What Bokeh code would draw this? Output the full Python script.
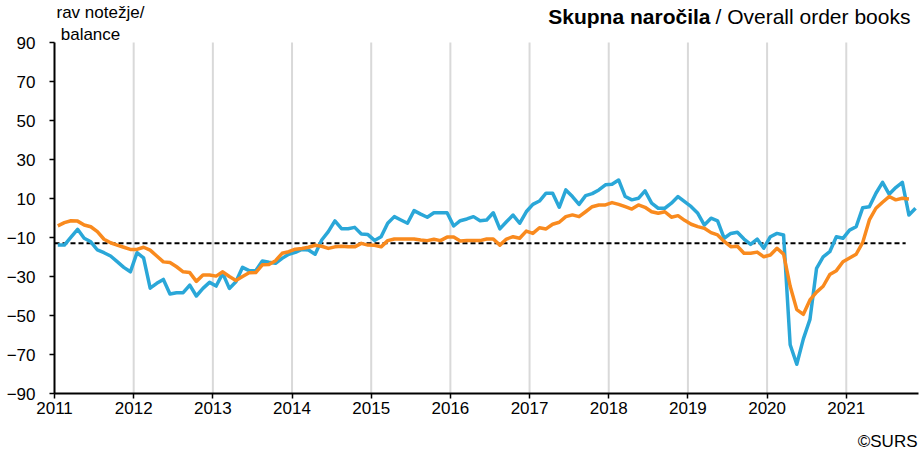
import numpy as np
from bokeh.plotting import figure
from bokeh.models import FixedTicker, Label, Title
from bokeh.embed import file_html
from bokeh.resources import INLINE

# ---- data (monthly, Jan 2011 - Nov 2021) ----
years = list(range(2011, 2022))
year_labels = [str(y) for y in years]

balance = [
    -13.9, -13.9, -9.8, -5.8, -10.4, -12.2, -16.4, -17.8, -19.5, -22.4, -25.3, -27.6,
    -17.8, -20.5, -36.0, -33.5, -31.5, -39.0, -38.3, -38.3, -34.4, -40.0, -36.1, -33.0,
    -34.9, -28.4, -36.1, -32.7, -25.3, -27.0, -27.0, -22.0, -22.7, -23.2, -20.7, -18.6,
    -17.6, -16.1, -16.4, -18.6, -11.3, -7.0, -1.5, -5.5, -5.5, -4.8, -8.2, -8.5,
    -11.5, -9.6, -2.7, 0.7, -1.0, -2.7, 3.8, 2.0, 0.4, 2.7, 2.7, 2.7,
    -4.1, -1.4, -0.5, 0.7, -1.4, -1.0, 2.7, -5.6, -1.9, 1.5, -2.7, 3.2,
    7.0, 8.7, 12.7, 12.7, 5.5, 14.4, 11.0, 7.0, 11.5, 12.5, 14.4, 17.0,
    17.3, 19.5, 11.0, 9.3, 10.1, 13.9, 7.6, 5.0, 5.0, 7.6, 11.0, 8.4,
    5.8, 2.4, -3.6, -0.1, -1.5, -10.4, -7.9, -7.3, -10.8, -13.5, -10.8, -15.5,
    -9.6, -7.9, -8.7, -65.0, -75.0, -62.0, -52.0, -25.8, -19.9, -17.3, -9.6, -10.4,
    -6.2, -4.5, 5.3, 5.8, 12.7, 18.3, 12.2, 15.6, 18.3, 1.5, 5.0,
]

trend = [
    -4.0, -2.4, -1.4, -1.6, -3.6, -4.5, -7.0, -10.9, -12.7, -13.9, -15.0, -16.1,
    -16.1, -15.0, -16.5, -19.5, -22.5, -22.8, -25.0, -27.6, -28.0, -32.5, -29.2, -29.2,
    -29.8, -27.6, -30.0, -32.0, -30.0, -28.1, -28.0, -24.0, -23.8, -21.9, -18.1, -17.3,
    -16.0, -15.6, -15.0, -14.0, -14.5, -15.6, -14.8, -14.5, -14.8, -14.8, -13.0, -13.9,
    -14.0, -14.8, -11.6, -10.8, -10.8, -10.8, -10.8, -11.3, -11.6, -10.9, -11.6, -9.8,
    -9.8, -11.8, -11.6, -11.6, -11.6, -10.8, -10.8, -13.9, -10.8, -9.6, -10.4, -6.7,
    -7.9, -5.0, -5.6, -3.2, -2.2, 0.7, 1.6, 0.7, 3.2, 5.8, 6.7, 6.7,
    7.9, 7.0, 5.8, 4.6, 6.7, 5.5, 3.2, 2.4, 3.2, 0.4, 1.2, -1.2,
    -3.2, -4.4, -5.3, -7.5, -8.7, -12.0, -14.7, -14.5, -18.1, -18.1, -17.5, -19.9,
    -19.0, -15.5, -18.5, -35.0, -47.0, -49.4, -42.0, -38.0, -35.0, -29.0, -27.0, -22.4,
    -20.5, -18.6, -12.5, -1.0, 5.0, 8.1, 11.0, 9.3, 10.1, 9.8,
]

long_term_avg = -13.0
avg_months = 129          # months covered by the average line
y_min, y_max = -90, 90
y_ticks = list(range(y_min, y_max + 1, 20))

# category positions: month i is centred in its slot
x_bal = np.arange(len(balance)) + 0.5
x_tr = np.arange(len(trend)) + 0.5
year_pos = [12 * k for k in range(len(years))]

BLUE = "#2AA7D8"
ORANGE = "#F98A1E"
FONT = "Liberation Sans"

# geometry: frame reaches the top of the canvas so the heading texts sit inside it
FRAME_W, FRAME_H = 864, 393
PX_PER_UNIT = 1.95
PX_PER_MONTH = 6.598
y_top = y_min + FRAME_H / PX_PER_UNIT
x_end = FRAME_W / PX_PER_MONTH

p = figure(
    frame_width=FRAME_W, frame_height=FRAME_H,
    min_border_left=54, min_border_right=3, min_border_top=0, min_border_bottom=61,
    x_range=(0, x_end), y_range=(y_min, y_top),
    output_backend="svg", toolbar_location=None,
    background_fill_color="white", border_fill_color="white",
)
p.outline_line_color = None
p.xgrid.visible = False
p.ygrid.visible = False

# axes
for ax in (p.xaxis[0], p.yaxis[0]):
    ax.axis_line_color = "black"
    ax.axis_line_width = 2
    ax.major_tick_line_color = "black"
    ax.major_tick_line_width = 1.5
    ax.major_tick_in = 0
    ax.major_tick_out = 5
    ax.minor_tick_line_color = None
    ax.major_label_text_font = FONT
    ax.major_label_text_font_size = "17px"
    ax.major_label_text_color = "black"

p.yaxis[0].ticker = FixedTicker(ticks=y_ticks)
p.yaxis[0].bounds = (y_min, y_max)
p.yaxis[0].major_label_standoff = 14
p.xaxis[0].ticker = FixedTicker(ticks=year_pos)
p.xaxis[0].major_label_overrides = {pos: lab for pos, lab in zip(year_pos, year_labels)}
p.xaxis[0].major_label_standoff = 3
# a blank, small axis label just adds room between the year labels and the credit line
p.xaxis[0].axis_label = " "
p.xaxis[0].axis_label_text_font_size = "7px"
p.xaxis[0].axis_label_standoff = 0

# vertical year separators (only over the value range)
p.segment(x0=year_pos[1:], y0=y_min, x1=year_pos[1:], y1=y_max,
          line_color="#D9D9D9", line_width=2)

# long-term average
p.line([0, avg_months], [long_term_avg, long_term_avg], line_color="black",
       line_width=2, line_dash="5 3")

p.line(x_bal, balance, line_color=BLUE, line_width=3.5, line_join="round")
p.line(x_tr, trend, line_color=ORANGE, line_width=3.5, line_join="round")

# texts (screen units, relative to the frame's bottom-left corner)
def lab(text, x, y, align="left", bold=False, size="17px"):
    p.add_layout(Label(x=x, y=y, x_units="screen", y_units="screen", text=text,
                       text_font=FONT, text_font_size=size, text_align=align,
                       text_baseline="alphabetic", text_color="black",
                       text_font_style="bold" if bold else "normal"))

lab("Skupna naročila", 656, 377, align="right", bold=True, size="21px")
lab("/ Overall order books", 661, 377, align="left", size="21px")
lab("rav notežje/", 2, 381, align="left")
lab("balance", 36, 359, align="center")

p.add_layout(Title(text="©SURS", align="right", offset=1, standoff=6,
                   text_font=FONT, text_font_size="17px", text_font_style="normal",
                   text_color="black"), "below")

open("out.html", "w").write(file_html(p, INLINE))
